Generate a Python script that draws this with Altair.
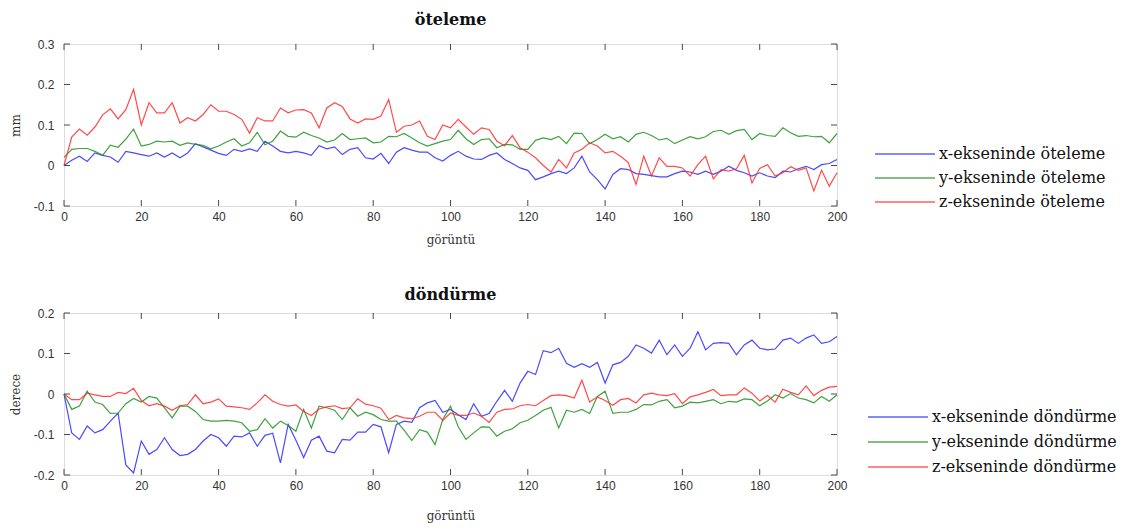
import altair as alt
import pandas as pd

# Image index (every second frame) shared by all six motion parameters
frame = list(range(0, 201, 2))

# Translation (mm)
tx = [0.0, 0.013, 0.023, 0.01, 0.031, 0.025, 0.021, 0.008, 0.035, 0.031,
      0.027, 0.023, 0.031, 0.021, 0.031, 0.019, 0.031, 0.054, 0.046, 0.038,
      0.03, 0.025, 0.04, 0.035, 0.041, 0.035, 0.06, 0.048, 0.035, 0.031,
      0.035, 0.031, 0.025, 0.049, 0.041, 0.046, 0.027, 0.04, 0.044, 0.019,
      0.016, 0.03, 0.005, 0.033, 0.044, 0.038, 0.033, 0.033, 0.019, 0.011,
      0.025, 0.035, 0.023, 0.016, 0.015, 0.025, 0.031, 0.015, 0.005, -0.006,
      -0.012, -0.035, -0.028, -0.02, -0.014, -0.02, -0.006, 0.023, -0.016, -0.035,
      -0.058, -0.022, -0.008, -0.01, -0.02, -0.022, -0.025, -0.028, -0.028, -0.02,
      -0.014, -0.016, -0.022, -0.014, -0.022, -0.014, -0.002, -0.012, -0.018, -0.026,
      -0.018, -0.026, -0.03, -0.014, -0.016, -0.008, -0.002, -0.01, 0.002, 0.005,
      0.015]
ty = [0.02, 0.04, 0.042, 0.042, 0.035, 0.025, 0.05, 0.045, 0.065, 0.09,
      0.048, 0.052, 0.06, 0.058, 0.06, 0.05, 0.056, 0.052, 0.05, 0.041,
      0.048, 0.058, 0.066, 0.048, 0.056, 0.082, 0.051, 0.06, 0.085, 0.072,
      0.07, 0.082, 0.074, 0.068, 0.058, 0.063, 0.079, 0.064, 0.066, 0.068,
      0.056, 0.058, 0.072, 0.071, 0.079, 0.068, 0.056, 0.048, 0.054, 0.06,
      0.064, 0.087, 0.066, 0.052, 0.064, 0.066, 0.044, 0.052, 0.051, 0.04,
      0.04, 0.062, 0.068, 0.064, 0.072, 0.054, 0.08, 0.079, 0.054, 0.064,
      0.077, 0.066, 0.071, 0.058, 0.077, 0.082, 0.074, 0.063, 0.067, 0.054,
      0.063, 0.071, 0.066, 0.071, 0.084, 0.087, 0.077, 0.086, 0.089, 0.064,
      0.079, 0.074, 0.072, 0.093, 0.081, 0.072, 0.074, 0.071, 0.072, 0.056,
      0.079]
tz = [0.0, 0.07, 0.09, 0.075, 0.095, 0.125, 0.14, 0.115, 0.138, 0.188,
      0.1, 0.155, 0.13, 0.13, 0.155, 0.105, 0.118, 0.11, 0.126, 0.15,
      0.134, 0.134, 0.126, 0.114, 0.08, 0.118, 0.11, 0.11, 0.142, 0.13,
      0.137, 0.138, 0.13, 0.093, 0.142, 0.155, 0.146, 0.115, 0.105, 0.115,
      0.114, 0.122, 0.163, 0.082, 0.097, 0.1, 0.11, 0.072, 0.064, 0.1,
      0.093, 0.114, 0.095, 0.077, 0.093, 0.089, 0.06, 0.049, 0.074, 0.044,
      0.033, 0.019, 0.0, -0.016, 0.015, -0.006, 0.031, 0.04, 0.056, 0.048,
      0.031, 0.035, 0.023, 0.007, -0.047, 0.023, -0.026, 0.019, -0.002, -0.002,
      -0.006, -0.026, 0.002, 0.023, -0.033, -0.01, -0.014, -0.008, 0.025, -0.043,
      -0.007, 0.002, -0.026, -0.018, -0.003, -0.012, -0.006, -0.063, -0.012, -0.051,
      -0.018]

# Rotation (degrees)
rx = [0.0, -0.096, -0.112, -0.079, -0.096, -0.088, -0.067, -0.047, -0.175, -0.195,
      -0.116, -0.149, -0.137, -0.108, -0.137, -0.152, -0.149, -0.137, -0.116, -0.1,
      -0.108, -0.129, -0.104, -0.106, -0.096, -0.129, -0.102, -0.097, -0.17, -0.075,
      -0.114, -0.157, -0.114, -0.104, -0.141, -0.145, -0.112, -0.114, -0.094, -0.094,
      -0.075, -0.081, -0.145, -0.075, -0.067, -0.07, -0.034, -0.022, -0.016, -0.045,
      -0.038, -0.051, -0.063, -0.024, -0.055, -0.048, -0.018, 0.009, -0.018, 0.027,
      0.056, 0.048, 0.107, 0.102, 0.113, 0.076, 0.066, 0.075, 0.066, 0.078,
      0.027, 0.072, 0.078, 0.093, 0.121, 0.113, 0.101, 0.133, 0.097, 0.121,
      0.093, 0.113, 0.154, 0.109, 0.125, 0.127, 0.125, 0.097, 0.121, 0.133,
      0.113, 0.109, 0.111, 0.133, 0.138, 0.125, 0.138, 0.146, 0.125, 0.129,
      0.142]
ry = [0.0, -0.038, -0.03, 0.007, -0.02, -0.026, -0.048, -0.047, -0.024, -0.011,
      -0.02, -0.006, -0.01, -0.034, -0.059, -0.03, -0.03, -0.043, -0.063, -0.067,
      -0.067, -0.065, -0.067, -0.071, -0.092, -0.088, -0.061, -0.084, -0.067, -0.078,
      -0.092, -0.038, -0.084, -0.03, -0.034, -0.04, -0.063, -0.034, -0.055, -0.045,
      -0.051, -0.063, -0.067, -0.067, -0.089, -0.115, -0.088, -0.094, -0.125, -0.063,
      -0.03, -0.081, -0.112, -0.096, -0.081, -0.082, -0.104, -0.092, -0.086, -0.071,
      -0.065, -0.053, -0.04, -0.033, -0.084, -0.04, -0.045, -0.038, -0.048, -0.006,
      0.007, -0.048, -0.045, -0.045, -0.038, -0.026, -0.027, -0.018, -0.014, -0.034,
      -0.03, -0.02, -0.022, -0.018, -0.014, -0.024, -0.018, -0.02, -0.012, -0.014,
      -0.029, -0.017, -0.002, -0.01, 0.001, -0.01, -0.014, -0.022, -0.006, -0.018,
      -0.002]
rz = [0.0, -0.014, -0.014, 0.002, -0.002, -0.006, -0.006, 0.004, 0.001, 0.014,
      -0.016, -0.029, -0.024, -0.03, -0.04, -0.029, -0.026, -0.002, -0.024, -0.02,
      -0.012, -0.03, -0.032, -0.034, -0.038, -0.022, -0.002, -0.018, -0.026, -0.03,
      -0.027, -0.043, -0.053, -0.037, -0.032, -0.029, -0.036, -0.034, -0.012, -0.025,
      -0.029, -0.035, -0.063, -0.053, -0.059, -0.061, -0.055, -0.045, -0.045, -0.065,
      -0.047, -0.053, -0.053, -0.047, -0.055, -0.07, -0.045, -0.038, -0.037, -0.029,
      -0.026, -0.029, -0.016, -0.004, -0.002, -0.004, -0.01, 0.034, -0.02, -0.007,
      -0.016, -0.028, -0.014, -0.011, -0.022, -0.002, 0.002, -0.002, -0.004, 0.001,
      -0.024, -0.007, -0.002, 0.004, 0.011, -0.004, -0.002, -0.002, 0.015, 0.002,
      -0.017, -0.004, -0.02, 0.012, 0.004, -0.002, 0.02, -0.004, 0.009, 0.017,
      0.019]

trans_names = ["x-ekseninde öteleme", "y-ekseninde öteleme", "z-ekseninde öteleme"]
rot_names = ["x-ekseninde döndürme", "y-ekseninde döndürme", "z-ekseninde döndürme"]
x_ticks = [0, 20, 40, 60, 80, 100, 120, 140, 160, 180, 200]
trans_ticks = [-0.1, 0, 0.1, 0.2, 0.3]
rot_ticks = [-0.2, -0.1, 0, 0.1, 0.2]

COLORS = ["#2a2aff", "#1f911f", "#ff2a2a"]
FRAME = "#4a4a4a"
SANS = "Liberation Sans"
SERIF = "DejaVu Serif"
W, H = 773, 162
TICK = 6


def long_table(names, series):
    rows = []
    for name, vals in zip(names, series):
        for f, v in zip(frame, vals):
            rows.append({"goruntu": f, "deger": v, "seri": name})
    return pd.DataFrame(rows)


def panel(df, names, title, ytitle, ticks, legend_x, legend_y, row_pad,
          xtitle_pad, title_offset):
    label_expr = "replace(format(datum.value, '~g'), '\u2212', '-')"
    x_enc = alt.X("goruntu:Q", scale=alt.Scale(domain=[0, 200], nice=False),
                  axis=alt.Axis(values=x_ticks, ticks=False, domain=False, grid=False,
                                labelFlush=False,
                                title="görüntü", titleFont=SERIF, titleFontSize=12,
                                titleFontWeight="normal", titleColor="#333",
                                titlePadding=xtitle_pad, labelFont=SANS, labelFontSize=12,
                                labelColor="#333", labelPadding=5))
    y_enc = alt.Y("deger:Q", scale=alt.Scale(domain=[ticks[0], ticks[-1]], nice=False),
                  axis=alt.Axis(values=ticks, ticks=False, domain=False, grid=False,
                                labelFlush=False, labelExpr=label_expr,
                                title=ytitle, titleFont=SERIF, titleFontSize=12,
                                titleFontWeight="normal", titleColor="#333",
                                titlePadding=11, labelFont=SANS, labelFontSize=12,
                                labelColor="#333", labelPadding=10))

    lines = alt.Chart(df).mark_line(strokeWidth=1.2, opacity=0.85).encode(
        x=x_enc,
        y=y_enc,
        color=alt.Color("seri:N", sort=names,
                        scale=alt.Scale(domain=names, range=COLORS),
                        legend=alt.Legend(orient="none", legendX=legend_x,
                                          legendY=legend_y, title=None,
                                          symbolType="stroke", symbolSize=3600,
                                          symbolStrokeWidth=1.6, symbolOpacity=0.75,
                                          clipHeight=16, rowPadding=row_pad,
                                          labelFont=SERIF, labelFontSize=16,
                                          labelLimit=400,
                                          labelColor="#111", labelOffset=3)),
    )

    xt = pd.DataFrame({"goruntu": x_ticks})
    yt = pd.DataFrame({"deger": ticks})
    top_ticks = alt.Chart(xt).mark_rule(color=FRAME).encode(
        x=x_enc, y=alt.value(0), y2=alt.value(TICK))
    bottom_ticks = alt.Chart(xt).mark_rule(color=FRAME).encode(
        x=x_enc, y=alt.value(H - TICK), y2=alt.value(H))
    left_ticks = alt.Chart(yt).mark_rule(color=FRAME).encode(
        y=y_enc, x=alt.value(0), x2=alt.value(TICK))
    right_ticks = alt.Chart(yt).mark_rule(color=FRAME).encode(
        y=y_enc, x=alt.value(W - TICK), x2=alt.value(W))

    return alt.layer(lines, top_ticks, bottom_ticks, left_ticks, right_ticks).properties(
        width=W, height=H,
        title=alt.Title(title, frame="group", anchor="middle", font=SERIF,
                        fontSize=16, fontWeight="bold", color="#111",
                        offset=title_offset),
    )


top = panel(long_table(trans_names, [tx, ty, tz]), trans_names, "öteleme", "mm",
            trans_ticks, 810, 102, 8, 12, 10)
bottom = panel(long_table(rot_names, [rx, ry, rz]), rot_names, "döndürme", "derece",
               rot_ticks, 803, 96, 9, 19, 4)

chart = alt.vconcat(top, bottom, spacing=40).resolve_scale(
    color="independent", x="independent", y="independent"
).configure_view(
    stroke=FRAME, strokeWidth=1.2
).configure(
    padding={"left": 8, "top": 11, "right": 5, "bottom": 2},
    background="white",
)

chart.save("out.html", embed_options={"renderer": "svg", "actions": False})
